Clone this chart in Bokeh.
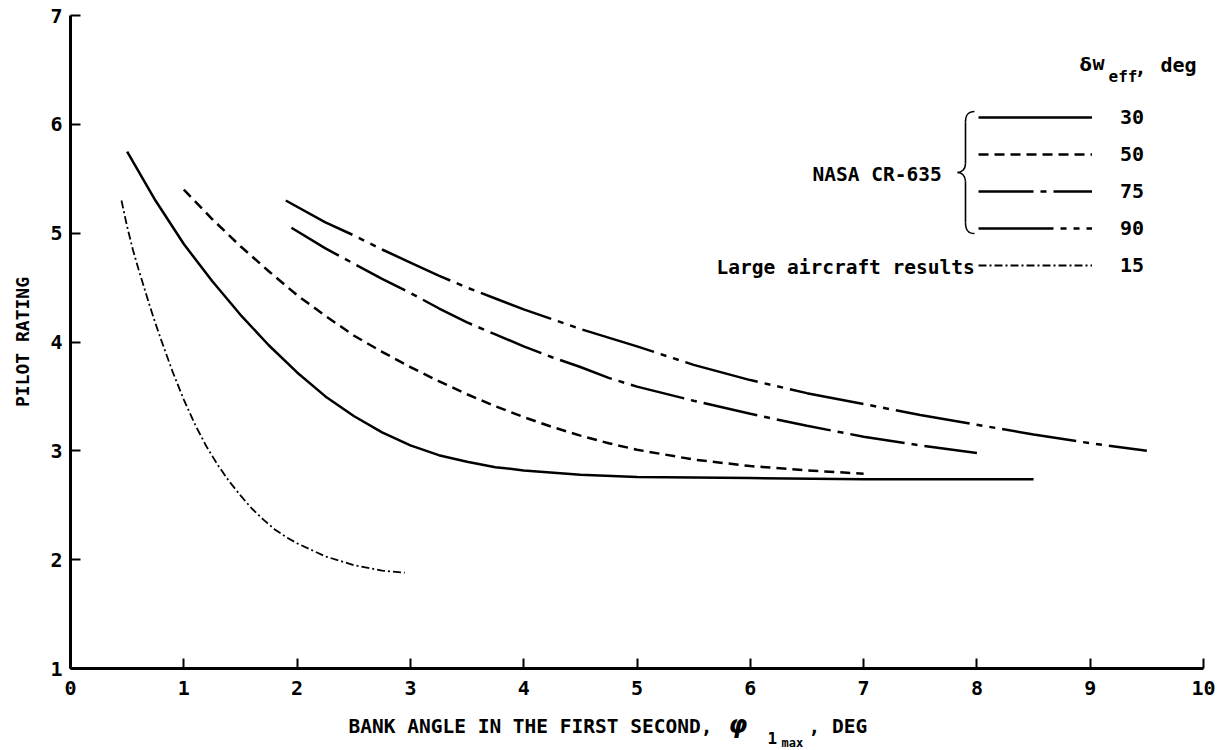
from bokeh.plotting import figure
from bokeh.models import Range1d, FixedTicker, Legend, LegendItem, Label
from bokeh.embed import file_html
from bokeh.resources import INLINE

# ---- data ----
x30 = [0.5, 0.75, 1.0, 1.25, 1.5, 1.75, 2.0, 2.25, 2.5, 2.75, 3.0, 3.25, 3.5, 3.75, 4.0, 4.5, 5.0, 6.0, 7.0, 8.5]
y30 = [5.75, 5.30, 4.90, 4.56, 4.25, 3.97, 3.72, 3.50, 3.32, 3.17, 3.05, 2.96, 2.90, 2.85, 2.82, 2.78, 2.76, 2.75, 2.74, 2.74]

x50 = [1.0, 1.25, 1.5, 1.75, 2.0, 2.25, 2.5, 2.75, 3.0, 3.25, 3.5, 3.75, 4.0, 4.25, 4.5, 4.75, 5.0, 5.5, 6.0, 6.5, 7.0]
y50 = [5.40, 5.13, 4.88, 4.65, 4.43, 4.24, 4.06, 3.91, 3.77, 3.64, 3.52, 3.41, 3.31, 3.22, 3.14, 3.07, 3.01, 2.92, 2.86, 2.82, 2.79]

x75 = [1.95, 2.25, 2.5, 2.75, 3.0, 3.25, 3.5, 3.75, 4.0, 4.25, 4.5, 4.75, 5.0, 5.5, 6.0, 6.5, 7.0, 7.5, 8.0]
y75 = [5.05, 4.86, 4.72, 4.58, 4.45, 4.31, 4.18, 4.07, 3.96, 3.86, 3.77, 3.67, 3.59, 3.46, 3.34, 3.23, 3.13, 3.05, 2.98]

x90 = [1.9, 2.25, 2.5, 2.75, 3.0, 3.25, 3.5, 3.75, 4.0, 4.5, 5.0, 5.5, 6.0, 6.5, 7.0, 7.5, 8.0, 8.5, 9.0, 9.5]
y90 = [5.30, 5.10, 4.98, 4.85, 4.73, 4.61, 4.50, 4.40, 4.30, 4.12, 3.96, 3.79, 3.65, 3.53, 3.43, 3.33, 3.24, 3.15, 3.07, 3.00]

x15 = [0.45, 0.5, 0.55, 0.6, 0.65, 0.7, 0.75, 0.8, 0.9, 1.0, 1.1, 1.2, 1.3, 1.4, 1.5, 1.6, 1.7, 1.8, 1.9, 2.0, 2.25, 2.5, 2.75, 2.95]
y15 = [5.30, 5.06, 4.85, 4.67, 4.50, 4.33, 4.17, 4.02, 3.73, 3.47, 3.24, 3.04, 2.87, 2.72, 2.59, 2.47, 2.37, 2.28, 2.21, 2.15, 2.03, 1.95, 1.90, 1.88]

series_labels = ["30", "50", "75", "90", "15"]
x_ticks = [0, 1, 2, 3, 4, 5, 6, 7, 8, 9, 10]
y_ticks = [1, 2, 3, 4, 5, 6, 7]

MONO = "DejaVu Sans Mono"

# page geometry of the reference axes (pixels)
LEFT, TOP, RIGHT, BOTTOM_AXIS = 70, 15, 1203, 668
W, H = 1220, 748
PX_X = (RIGHT - LEFT) / 10.0
PX_Y = (BOTTOM_AXIS - TOP) / 6.0
X_MIN, X_MAX = -LEFT / PX_X, (W - LEFT) / PX_X
Y_MIN, Y_MAX = 7 - (H - TOP) / PX_Y, 7 + TOP / PX_Y

p = figure(width=W, height=H, x_range=Range1d(X_MIN, X_MAX), y_range=Range1d(Y_MIN, Y_MAX),
           output_backend="svg", toolbar_location=None,
           min_border_left=0, min_border_right=0, min_border_top=0, min_border_bottom=0)
p.outline_line_color = None
p.xgrid.grid_line_color = None
p.ygrid.grid_line_color = None
p.background_fill_color = "white"
p.border_fill_color = "white"

for ax in (p.xaxis[0], p.yaxis[0]):
    ax.axis_line_width = 3
    ax.axis_line_color = "black"
    ax.major_tick_in = 10
    ax.major_tick_out = 0
    ax.major_tick_line_width = 2
    ax.major_tick_line_color = "black"
    ax.minor_tick_line_color = None
    ax.major_label_text_font = MONO
    ax.major_label_text_font_style = "bold"
    ax.major_label_text_font_size = "20px"
    ax.major_label_text_color = "black"

p.xaxis.ticker = FixedTicker(ticks=x_ticks)
p.yaxis.ticker = FixedTicker(ticks=y_ticks)
p.xaxis.fixed_location = 1
p.yaxis.fixed_location = 0
p.xaxis.bounds = (0, 10)
p.yaxis.bounds = (1, 7)
p.xaxis.major_label_standoff = 12
p.yaxis.major_label_standoff = 8

p.yaxis.axis_label = "PILOT RATING"
p.yaxis.axis_label_text_font = MONO
p.yaxis.axis_label_text_font_style = "bold"
p.yaxis.axis_label_text_font_size = "18px"
p.yaxis.axis_label_text_color = "black"
p.yaxis.axis_label_standoff = 14

# ---- curves ----
r30 = p.line(x30, y30, line_color="black", line_width=2.5)
r50 = p.line(x50, y50, line_color="black", line_width=2.5, line_dash="10 6")
r75 = p.line(x75, y75, line_color="black", line_width=2.5, line_dash="55 7 6 7")
r90 = p.line(x90, y90, line_color="black", line_width=2.5, line_dash="75 7 6 7 6 7")
r15 = p.line(x15, y15, line_color="black", line_width=1.8, line_dash="8 3 2 3")

legend = Legend(items=[LegendItem(label=lab, renderers=[r]) for lab, r in
                       zip(series_labels, [r30, r50, r75, r90, r15])],
                location=(978, H - (105 + 172)), orientation="vertical",
                glyph_width=114, glyph_height=20, label_height=20, spacing=13,
                label_standoff=28, padding=0, margin=0,
                border_line_color=None, background_fill_alpha=0,
                label_text_font=MONO, label_text_font_style="bold",
                label_text_font_size="20px", label_text_color="black")
p.add_layout(legend, "center")

# ---- helpers for annotation placement (page pixels -> data) ----
def X(px):
    return (px - LEFT) / PX_X

def Y(py):
    return 7 - (py - TOP) / PX_Y

def lab(text, px, py, size, font=MONO, style="bold"):
    p.add_layout(Label(x=X(px), y=Y(py), text=text, text_font=font, text_font_style=style,
                       text_font_size=size, text_baseline="middle", text_align="left",
                       text_color="black"))

# legend header
lab("\u03b4", 1079, 64, "18px", font="DejaVu Sans")
lab("w", 1092, 62, "20px")
lab("eff", 1108, 76, "16px")
lab(",", 1134, 66, "20px")
lab("deg", 1160, 64, "20px")

lab("NASA CR-635", 812, 174, "19.5px")
lab("Large aircraft results", 716, 267, "19.5px")

# brace
p.bezier(x0=[X(974), X(965), X(957), X(965)], y0=[Y(111), Y(163), Y(172), Y(222)],
         x1=[X(965), X(957), X(965), X(974)], y1=[Y(122), Y(172), Y(181), Y(233)],
         cx0=[X(967), X(965), X(961), X(965)], cy0=[Y(111), Y(169), Y(172), Y(229)],
         cx1=[X(965), X(961), X(965), X(967)], cy1=[Y(115), Y(172), Y(175), Y(233)],
         line_color="black", line_width=1.6)
p.segment(x0=[X(965), X(965)], y0=[Y(122), Y(181)], x1=[X(965), X(965)], y1=[Y(163), Y(222)],
          line_color="black", line_width=1.6)

# x-axis title
lab("BANK ANGLE IN THE FIRST SECOND,", 348, 726, "19.5px")
lab("\u03c6", 728, 724, "24px", font="DejaVu Sans", style="bold italic")
lab("1", 767, 737, "16px")
lab("max", 781, 742, "12px")
lab(", DEG", 808, 726, "19.5px")

open("out.html", "w").write(file_html(p, INLINE))
